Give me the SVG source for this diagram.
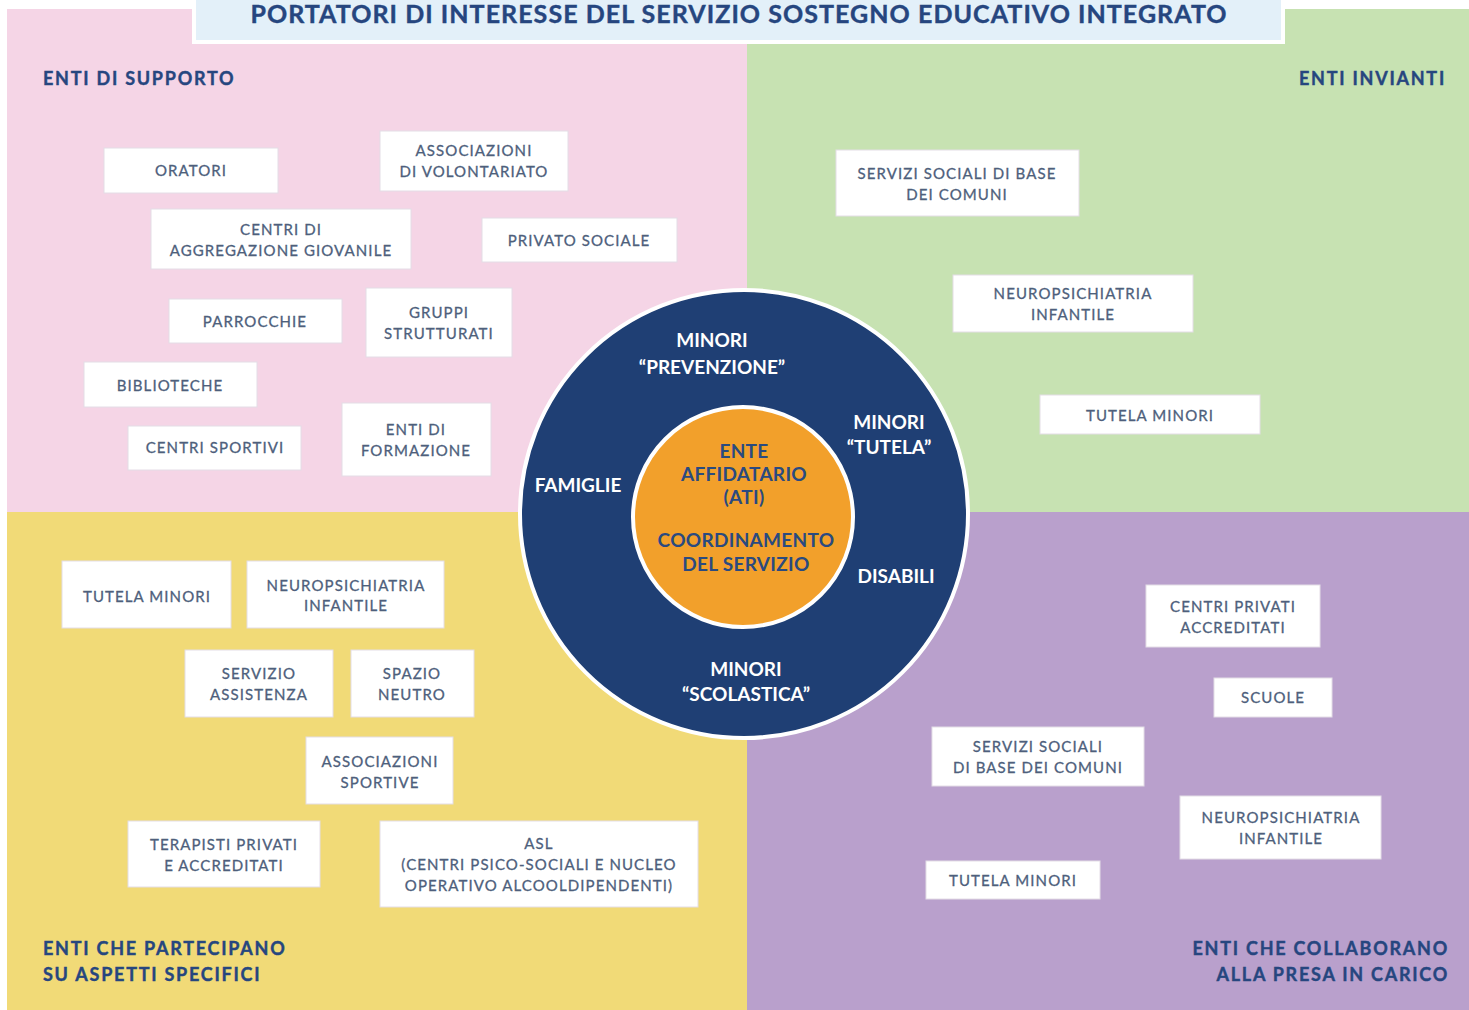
<svg xmlns="http://www.w3.org/2000/svg" width="1469" height="1010" viewBox="0 0 1469 1010">
<style>
.box{fill:#ffffff;stroke:#e4dde6;stroke-width:1}
.bt{font-family:Lato,"Open Sans","Liberation Sans",sans-serif;font-size:15px;fill:#4e5f7c;stroke:#4e5f7c;stroke-width:0.3px;text-anchor:middle;letter-spacing:1.1px}
.ql{font-family:Lato,"Open Sans","Liberation Sans",sans-serif;font-size:18px;font-weight:bold;fill:#26467f;stroke:#26467f;stroke-width:0.4px;letter-spacing:1.75px}
.ct{font-family:Lato,"Open Sans","Liberation Sans",sans-serif;font-size:19px;font-weight:bold;fill:#ffffff;text-anchor:middle}
.ot{font-family:Lato,"Open Sans","Liberation Sans",sans-serif;font-size:19px;font-weight:bold;fill:#2a4a80;text-anchor:middle;letter-spacing:0.3px}
</style>
<rect width="1469" height="1010" fill="#ffffff"/>
<g id="quadrants">
<rect x="7" y="9" width="740" height="503" fill="#f5d5e6"/>
<rect x="747" y="9" width="722" height="503" fill="#c7e2b2"/>
<rect x="7" y="512" width="740" height="498" fill="#f1da77"/>
<rect x="747" y="512" width="722" height="498" fill="#b9a0cc"/>
</g>
<g id="title">
<rect x="192" y="-4" width="1093" height="48" fill="#ffffff"/>
<rect x="196" y="-4" width="1085" height="44" fill="#e3f0f9"/>
<text x="739" y="23" font-family="Lato,'Open Sans','Liberation Sans',sans-serif" font-size="25" font-weight="bold" fill="#26467f" stroke="#26467f" stroke-width="0.4" text-anchor="middle" letter-spacing="1.05">PORTATORI DI INTERESSE DEL SERVIZIO SOSTEGNO EDUCATIVO INTEGRATO</text>
</g>
<g id="quadrant-labels">
<text class="ql" x="43" y="85">ENTI DI SUPPORTO</text>
<text class="ql" x="1446" y="85" text-anchor="end">ENTI INVIANTI</text>
<text class="ql" x="43" y="955">ENTI CHE PARTECIPANO</text>
<text class="ql" x="43" y="981">SU ASPETTI SPECIFICI</text>
<text class="ql" x="1449" y="955" text-anchor="end">ENTI CHE COLLABORANO</text>
<text class="ql" x="1449" y="981" text-anchor="end">ALLA PRESA IN CARICO</text>
</g>
<g id="connectors"></g>
<!-- Pink -->
<g id="oratori"><rect class="box" x="104" y="148" width="174" height="45"/><text class="bt" x="191" y="176">ORATORI</text></g>
<g id="associazioni-volontariato"><rect class="box" x="380" y="131" width="188" height="60"/><text class="bt" x="474" y="156">ASSOCIAZIONI</text><text class="bt" x="474" y="177">DI VOLONTARIATO</text></g>
<g id="centri-aggregazione"><rect class="box" x="151" y="209" width="260" height="60"/><text class="bt" x="281" y="235">CENTRI DI</text><text class="bt" x="281" y="256">AGGREGAZIONE GIOVANILE</text></g>
<g id="privato-sociale"><rect class="box" x="482" y="218" width="195" height="44"/><text class="bt" x="579" y="246">PRIVATO SOCIALE</text></g>
<g id="parrocchie"><rect class="box" x="169" y="299" width="173" height="44"/><text class="bt" x="255" y="327">PARROCCHIE</text></g>
<g id="gruppi-strutturati"><rect class="box" x="366" y="288" width="146" height="69"/><text class="bt" x="439" y="318">GRUPPI</text><text class="bt" x="439" y="339">STRUTTURATI</text></g>
<g id="biblioteche"><rect class="box" x="84" y="362" width="173" height="45"/><text class="bt" x="170" y="391">BIBLIOTECHE</text></g>
<g id="centri-sportivi"><rect class="box" x="128" y="426" width="173" height="44"/><text class="bt" x="215" y="453">CENTRI SPORTIVI</text></g>
<g id="enti-formazione"><rect class="box" x="342" y="403" width="149" height="73"/><text class="bt" x="416" y="435">ENTI DI</text><text class="bt" x="416" y="456">FORMAZIONE</text></g>
<!-- Green -->
<g id="servizi-sociali-1"><rect class="box" x="836" y="150" width="243" height="66"/><text class="bt" x="957" y="179">SERVIZI SOCIALI DI BASE</text><text class="bt" x="957" y="200">DEI COMUNI</text></g>
<g id="neuropsichiatria-1"><rect class="box" x="953" y="275" width="240" height="57"/><text class="bt" x="1073" y="299">NEUROPSICHIATRIA</text><text class="bt" x="1073" y="320">INFANTILE</text></g>
<g id="tutela-minori-1"><rect class="box" x="1040" y="395" width="220" height="39"/><text class="bt" x="1150" y="421">TUTELA MINORI</text></g>
<!-- Yellow -->
<g id="tutela-minori-2"><rect class="box" x="62" y="561" width="169" height="67"/><text class="bt" x="147" y="602">TUTELA MINORI</text></g>
<g id="neuropsichiatria-2"><rect class="box" x="247" y="561" width="197" height="67"/><text class="bt" x="346" y="591">NEUROPSICHIATRIA</text><text class="bt" x="346" y="611">INFANTILE</text></g>
<g id="servizio-assistenza"><rect class="box" x="185" y="650" width="148" height="67"/><text class="bt" x="259" y="679">SERVIZIO</text><text class="bt" x="259" y="700">ASSISTENZA</text></g>
<g id="spazio-neutro"><rect class="box" x="351" y="650" width="123" height="67"/><text class="bt" x="412" y="679">SPAZIO</text><text class="bt" x="412" y="700">NEUTRO</text></g>
<g id="associazioni-sportive"><rect class="box" x="306" y="737" width="147" height="67"/><text class="bt" x="380" y="767">ASSOCIAZIONI</text><text class="bt" x="380" y="788">SPORTIVE</text></g>
<g id="terapisti"><rect class="box" x="128" y="821" width="192" height="66"/><text class="bt" x="224" y="850">TERAPISTI PRIVATI</text><text class="bt" x="224" y="871">E ACCREDITATI</text></g>
<g id="asl"><rect class="box" x="380" y="821" width="318" height="86"/><text class="bt" x="539" y="849">ASL</text><text class="bt" x="539" y="870">(CENTRI PSICO-SOCIALI E NUCLEO</text><text class="bt" x="539" y="891">OPERATIVO ALCOOLDIPENDENTI)</text></g>
<!-- Purple -->
<g id="centri-privati"><rect class="box" x="1146" y="585" width="174" height="62"/><text class="bt" x="1233" y="612">CENTRI PRIVATI</text><text class="bt" x="1233" y="633">ACCREDITATI</text></g>
<g id="scuole"><rect class="box" x="1214" y="678" width="118" height="39"/><text class="bt" x="1273" y="703">SCUOLE</text></g>
<g id="servizi-sociali-2"><rect class="box" x="932" y="727" width="212" height="59"/><text class="bt" x="1038" y="752">SERVIZI SOCIALI</text><text class="bt" x="1038" y="773">DI BASE DEI COMUNI</text></g>
<g id="neuropsichiatria-3"><rect class="box" x="1180" y="796" width="201" height="63"/><text class="bt" x="1281" y="823">NEUROPSICHIATRIA</text><text class="bt" x="1281" y="844">INFANTILE</text></g>
<g id="tutela-minori-3"><rect class="box" x="926" y="861" width="174" height="38"/><text class="bt" x="1013" y="886">TUTELA MINORI</text></g>
<!-- Circle -->
<g id="beneficiari">
<circle cx="744" cy="514" r="224" fill="#1f3f74" stroke="#ffffff" stroke-width="4"/>
<text class="ct" x="712" y="347">MINORI</text>
<text class="ct" x="712" y="374">“PREVENZIONE”</text>
<text class="ct" x="889" y="429">MINORI</text>
<text class="ct" x="889" y="454">“TUTELA”</text>
<text class="ct" x="578" y="492">FAMIGLIE</text>
<text class="ct" x="896" y="583">DISABILI</text>
<text class="ct" x="746" y="676">MINORI</text>
<text class="ct" x="746" y="701">“SCOLASTICA”</text>
</g>
<g id="ente-affidatario">
<circle cx="743" cy="517" r="110" fill="#f2a02b" stroke="#ffffff" stroke-width="4"/>
<text class="ot" x="744" y="458">ENTE</text>
<text class="ot" x="744" y="481">AFFIDATARIO</text>
<text class="ot" x="744" y="504">(ATI)</text>
<text class="ot" x="746" y="547">COORDINAMENTO</text>
<text class="ot" x="746" y="571">DEL SERVIZIO</text>
</g>
</svg>
